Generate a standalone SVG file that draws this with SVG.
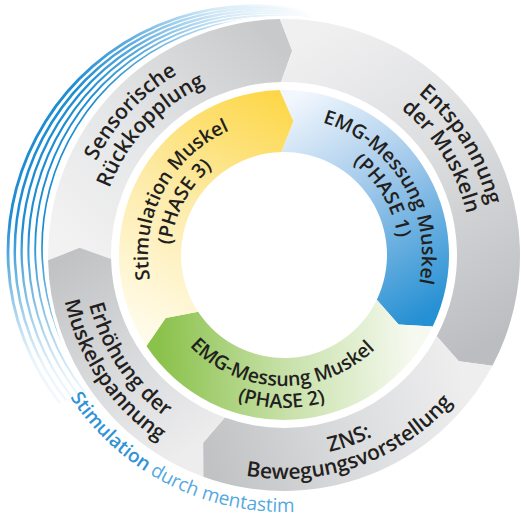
<svg xmlns="http://www.w3.org/2000/svg" width="521" height="517" viewBox="0 0 521 517">
<style>
.lbl{font-family:"Open Sans","Noto Sans","DejaVu Sans",sans-serif;fill:#231f20;}
.outer{font-size:21px;font-weight:600;}
.inner{font-size:19.5px;font-weight:600;}
.swoosh{fill:none;stroke:url(#gSwoosh);}
.blueTxt{font-family:"Open Sans","Noto Sans","DejaVu Sans",sans-serif;font-size:19px;}
</style>
<defs>
<linearGradient id="gSwoosh" gradientUnits="userSpaceOnUse" x1="290" y1="0" x2="40" y2="420">
<stop offset="0" stop-color="#1f8dd2" stop-opacity="0"/>
<stop offset="0.1" stop-color="#1f8dd2" stop-opacity="0.2"/>
<stop offset="0.25" stop-color="#1f8dd2" stop-opacity="0.75"/>
<stop offset="0.38" stop-color="#1f8dd2" stop-opacity="1"/>
<stop offset="0.68" stop-color="#1f8dd2" stop-opacity="1"/>
<stop offset="0.8" stop-color="#1f8dd2" stop-opacity="0.55"/>
<stop offset="0.9" stop-color="#1f8dd2" stop-opacity="0.1"/>
<stop offset="1" stop-color="#1f8dd2" stop-opacity="0"/>
</linearGradient>
<linearGradient id="gSens" gradientUnits="userSpaceOnUse" x1="80" y1="255" x2="286" y2="51">
<stop offset="0" stop-color="#f2f2f3"/><stop offset="0.45" stop-color="#e4e5e6"/><stop offset="1" stop-color="#c8c9cb"/>
</linearGradient>
<linearGradient id="gEnt" gradientUnits="userSpaceOnUse" x1="286" y1="51" x2="458" y2="361">
<stop offset="0" stop-color="#f0f0f1"/><stop offset="0.45" stop-color="#dcdddf"/><stop offset="1" stop-color="#bcbdc0"/>
</linearGradient>
<linearGradient id="gZns" gradientUnits="userSpaceOnUse" x1="458" y1="361" x2="203" y2="443">
<stop offset="0" stop-color="#eeeeef"/><stop offset="0.45" stop-color="#dcdddf"/><stop offset="1" stop-color="#c1c2c4"/>
</linearGradient>
<linearGradient id="gErh" gradientUnits="userSpaceOnUse" x1="203" y1="443" x2="80" y2="248">
<stop offset="0" stop-color="#ededee"/><stop offset="0.45" stop-color="#dadbdd"/><stop offset="1" stop-color="#c1c2c4"/>
</linearGradient>
<linearGradient id="gBlue" gradientUnits="userSpaceOnUse" x1="290" y1="100" x2="420" y2="320">
<stop offset="0" stop-color="#f2f7fd"/><stop offset="0.45" stop-color="#a0c8ea"/><stop offset="1" stop-color="#2590d3"/>
</linearGradient>
<linearGradient id="gGreen" gradientUnits="userSpaceOnUse" x1="410" y1="320" x2="160" y2="330">
<stop offset="0" stop-color="#f5f9ef"/><stop offset="0.5" stop-color="#c8e1aa"/><stop offset="1" stop-color="#8bc24c"/>
</linearGradient>
<linearGradient id="gYellow" gradientUnits="userSpaceOnUse" x1="160" y1="340" x2="290" y2="100">
<stop offset="0" stop-color="#fffbe9"/><stop offset="0.5" stop-color="#fdeba8"/><stop offset="1" stop-color="#fdd748"/>
</linearGradient>
<path id="tSens1" d="M116.29,381.38 A210,210 0 0 1 398.37,78.88"/>
<path id="tSens2" d="M134.65,367.54 A187,187 0 0 1 385.85,98.17"/>
<path id="tEnt1" d="M205.33,60.29 A210,210 0 0 1 424.52,411.06"/>
<path id="tEnt2" d="M213.95,81.62 A187,187 0 0 1 409.13,393.97"/>
<path id="tZns1" d="M108.19,354.47 A202,202 0 0 0 483.23,221.66"/>
<path id="tZns2" d="M89.04,365.30 A224,224 0 0 0 504.93,218.03"/>
<path id="tErh1" d="M144.37,110.41 A201,201 0 0 0 365.75,438.62"/>
<path id="tErh2" d="M128.40,93.87 A224,224 0 0 0 375.11,459.64"/>
<path id="tYel1" d="M200.27,362.17 A136,136 0 0 1 326.03,125.66"/>
<path id="tYel2" d="M214.43,344.05 A113,113 0 0 1 318.92,147.53"/>
<path id="tBlu1" d="M234.55,126.17 A138,138 0 0 1 374.54,359.15"/>
<path id="tBlu2" d="M242.79,147.64 A115,115 0 0 1 359.45,341.79"/>
<path id="tGrn1" d="M154.61,275.49 A131,131 0 0 0 412.59,280.00"/>
<path id="tGrn2" d="M132.88,278.93 A153,153 0 0 0 434.19,284.19"/>
<path id="tMenta" d="M38.23,179.86 A257,257 0 0 0 489.25,409.67"/>
</defs>
<rect width="521" height="517" fill="#ffffff"/>

<g id="swoosh">
<path class="swoosh" stroke-width="1.7" d="M90.76,389.60 A230,230 0 0 1 319.82,23.03"/>
<path class="swoosh" stroke-width="1.9" d="M84.64,392.37 A233.2,233.2 0 0 1 316.88,20.69"/>
<path class="swoosh" stroke-width="2.1" d="M78.51,395.14 A236.4,236.4 0 0 1 313.95,18.37"/>
<path class="swoosh" stroke-width="2.3" d="M72.39,397.91 A239.6,239.6 0 0 1 311.02,16.04"/>
<path class="swoosh" stroke-width="2.5" d="M66.27,400.68 A242.8,242.8 0 0 1 308.08,13.70"/>
<path class="swoosh" stroke-width="2.8" d="M60.15,403.45 A246,246 0 0 1 305.15,11.38"/>
</g>
<circle cx="284" cy="255" r="237.5" fill="none" stroke="#ffffff" stroke-width="3.5"/>

<g id="connectors"></g>

<g id="outer-sensorische">
<path fill="url(#gSens)" d="M48.06,260.35 A236,236 0 0 1 279.88,19.04 L292.21,50.67 L280.98,82.03 A173,173 0 0 0 111.04,258.93 L79.62,247.86 Z"/>
<text class="lbl outer"><textPath href="#tSens1" startOffset="50%" text-anchor="middle">Sensorische</textPath></text>
<text class="lbl outer"><textPath href="#tSens2" startOffset="50%" text-anchor="middle">Rückkopplung</textPath></text>
</g>
<g id="outer-entspannung">
<path fill="url(#gEnt)" d="M279.88,19.04 A236,236 0 0 1 492.38,365.79 L458.74,361.24 L436.75,336.22 A173,173 0 0 0 280.98,82.03 L292.21,50.67 Z"/>
<text class="lbl outer"><textPath href="#tEnt1" startOffset="50%" text-anchor="middle">Entspannung</textPath></text>
<text class="lbl outer"><textPath href="#tEnt2" startOffset="50%" text-anchor="middle">der Muskeln</textPath></text>
</g>
<g id="outer-zns">
<path fill="url(#gZns)" d="M492.38,365.79 A236,236 0 0 1 203.28,476.77 L203.11,442.82 L224.83,417.57 A173,173 0 0 0 436.75,336.22 L458.74,361.24 Z"/>
<text class="lbl outer"><textPath href="#tZns1" startOffset="50%" text-anchor="middle">ZNS:</textPath></text>
<text class="lbl outer"><textPath href="#tZns2" startOffset="50%" text-anchor="middle">Bewegungsvorstellung</textPath></text>
</g>
<g id="outer-erhoehung">
<path fill="url(#gErh)" d="M203.28,476.77 A236,236 0 0 1 48.06,260.35 L79.62,247.86 L111.04,258.93 A173,173 0 0 0 224.83,417.57 L203.11,442.82 Z"/>
<text class="lbl outer"><textPath href="#tErh1" startOffset="50%" text-anchor="middle">Erhöhung der</textPath></text>
<text class="lbl outer"><textPath href="#tErh2" startOffset="50%" text-anchor="middle">Muskelspannung</textPath></text>
</g>

<g id="phase1">
<path fill="url(#gBlue)" d="M279.68,90.06 A165,165 0 0 1 432.68,326.55 L398.62,324.42 L376.81,299.67 A103,103 0 0 0 281.30,152.04 L293.35,121.33 Z"/>
<text class="lbl inner"><textPath href="#tBlu1" startOffset="50%" text-anchor="middle">EMG-Messung Muskel</textPath></text>
<text class="lbl inner"><textPath href="#tBlu2" startOffset="50%" text-anchor="middle">(PHASE 1)</textPath></text>
</g>
<g id="phase2">
<path fill="url(#gGreen)" d="M432.68,326.55 A165,165 0 0 1 146.41,346.07 L165.68,317.91 L198.11,311.85 A103,103 0 0 0 376.81,299.67 L398.62,324.42 Z"/>
<text class="lbl inner"><textPath href="#tGrn1" startOffset="50%" text-anchor="middle">EMG-Messung Muskel</textPath></text>
<text class="lbl inner"><textPath href="#tGrn2" startOffset="50%" text-anchor="middle">(PHASE 2)</textPath></text>
</g>
<g id="phase3">
<path fill="url(#gYellow)" d="M146.41,346.07 A165,165 0 0 1 279.68,90.06 L293.35,121.33 L281.30,152.04 A103,103 0 0 0 198.11,311.85 L165.68,317.91 Z"/>
<text class="lbl inner"><textPath href="#tYel1" startOffset="50%" text-anchor="middle">Stimulation Muskel</textPath></text>
<text class="lbl inner"><textPath href="#tYel2" startOffset="50%" text-anchor="middle">(PHASE 3)</textPath></text>
</g>

<g id="mentastim-label">
<text class="blueTxt"><textPath href="#tMenta" startOffset="50%" text-anchor="middle"><tspan fill="#2f93d6" font-weight="600">Stimulation</tspan><tspan fill="#55a9e0"> durch mentastim</tspan></textPath></text>
</g>
</svg>
